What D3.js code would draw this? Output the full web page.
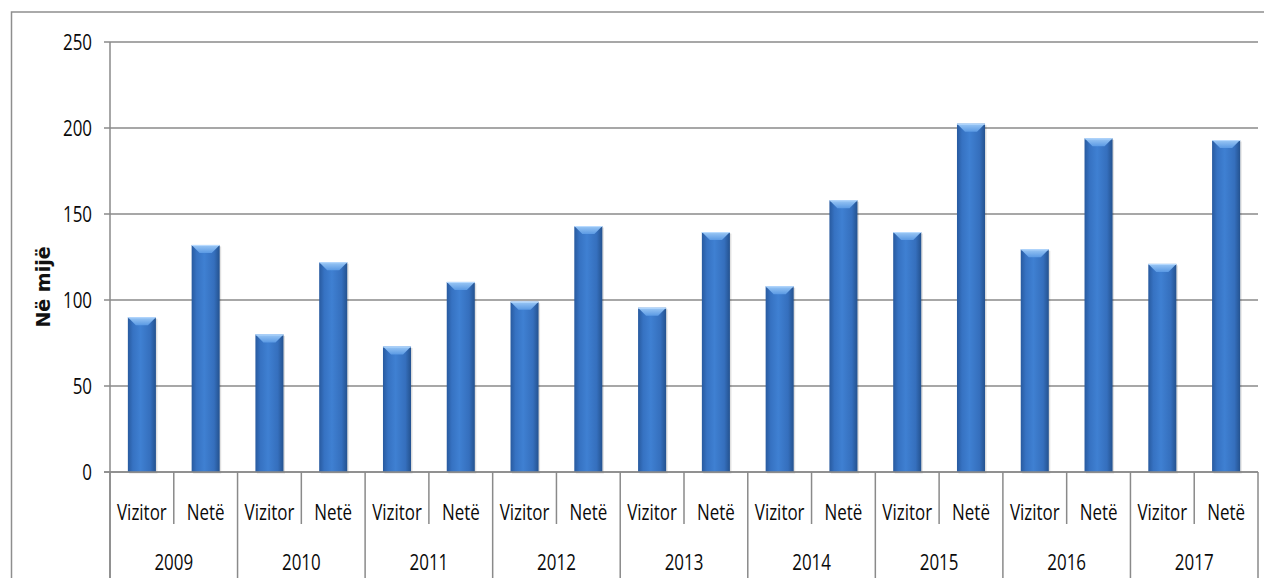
<!DOCTYPE html>
<html>
<head>
<meta charset="utf-8">
<script src="https://cdn.jsdelivr.net/npm/d3@7"></script>
<style>
  html, body { margin: 0; padding: 0; background: #fff; }
  svg { display: block; }
  .lbl { font-family: "Open Sans", "Liberation Sans", sans-serif; font-size: 22px; fill: #0a0a0a; }
</style>
</head>
<body>
<div id="chart"></div>
<script>
const years = ["2009","2010","2011","2012","2013","2014","2015","2016","2017"];
const series = ["Vizitor","Netë"];
const vizitor = [90, 80, 73, 99, 95.5, 108, 139.5, 129.5, 121];
const nete = [132, 122, 110.5, 143, 139.5, 158, 202.5, 194, 193];
const yTicks = [0, 50, 100, 150, 200, 250];
const yTitle = "Në mijë";

const W = 1264, H = 578;
const pLeft = 110, pRight = 1258, pTop = 42, pBottom = 472;
const SX = 0.77; // horizontal condensation of label text

const svg = d3.select("#chart").append("svg").attr("width", W).attr("height", H);

// data rows
const rows = [];
years.forEach((yr, i) => {
  rows.push({ year: yr, s: series[0], v: vizitor[i] });
  rows.push({ year: yr, s: series[1], v: nete[i] });
});

const x0 = d3.scaleBand().domain(years).range([pLeft, pRight]).padding(0);
const x1 = d3.scaleBand().domain(series).range([0, x0.bandwidth()]).paddingInner(0.56).paddingOuter(0.28);
const y = d3.scaleLinear().domain([0, 250]).range([pBottom, pTop]);

// outer frame
svg.append("rect").attr("x", 11.5).attr("y", 12).attr("width", 1300).attr("height", 700)
  .attr("fill", "none").attr("stroke", "#8e8e8e").attr("stroke-width", 1.5);

// gradients
const defs = svg.append("defs");
const g1 = defs.append("linearGradient").attr("id", "barGrad").attr("x1", "0").attr("x2", "1").attr("y1", "0").attr("y2", "0");
g1.append("stop").attr("offset", "0").attr("stop-color", "#285a9f");
g1.append("stop").attr("offset", "0.18").attr("stop-color", "#3672c2");
g1.append("stop").attr("offset", "0.45").attr("stop-color", "#3f80d2");
g1.append("stop").attr("offset", "0.8").attr("stop-color", "#356fbd");
g1.append("stop").attr("offset", "1").attr("stop-color", "#24528f");
const g2 = defs.append("linearGradient").attr("id", "capGrad").attr("x1", "0").attr("x2", "0").attr("y1", "0").attr("y2", "1");
g2.append("stop").attr("offset", "0").attr("stop-color", "#9cc8f5");
g2.append("stop").attr("offset", "1").attr("stop-color", "#5b9ae4");

// gridlines
svg.append("g").selectAll("line").data(yTicks).join("line")
  .attr("x1", pLeft - 6).attr("x2", pRight)
  .attr("y1", d => y(d)).attr("y2", d => y(d))
  .attr("stroke", "#8a8a8a").attr("stroke-width", 1.5);

// y axis line
svg.append("line").attr("x1", pLeft).attr("x2", pLeft).attr("y1", pTop).attr("y2", H + 5)
  .attr("stroke", "#8a8a8a").attr("stroke-width", 1.5);

// y labels
svg.append("g").selectAll("text").data(yTicks).join("text")
  .attr("class", "lbl")
  .attr("transform", d => `translate(92,${y(d)}) scale(${SX},1)`)
  .attr("dy", "0.36em")
  .attr("text-anchor", "end").text(d => d);

// y title
svg.append("text")
  .attr("transform", `translate(50,${(pTop + pBottom) / 2 + 30}) rotate(-90)`)
  .attr("text-anchor", "middle")
  .style("font-family", "'DejaVu Sans', sans-serif").style("font-weight", "bold").style("font-size", "19px")
  .attr("fill", "#111").text(yTitle);

// bars
const bars = svg.append("g").selectAll("g").data(rows).join("g")
  .attr("transform", d => `translate(${x0(d.year) + x1(d.s)},0)`);
const bw = x1.bandwidth();
bars.append("rect")
  .attr("x", 1.5).attr("y", d => y(d.v) + 1.5).attr("width", bw).attr("height", d => y(0) - y(d.v))
  .attr("fill", "#000").attr("opacity", 0.12);
bars.append("rect")
  .attr("x", 0).attr("y", d => y(d.v)).attr("width", bw).attr("height", d => y(0) - y(d.v))
  .attr("fill", "url(#barGrad)");
bars.append("path")
  .attr("d", d => {
    const t = y(d.v), c = 8;
    return `M0,${t} L${bw},${t} L${bw - c},${t + c} L${c},${t + c} Z`;
  })
  .attr("fill", "url(#capGrad)");
bars.append("line")
  .attr("x1", 0).attr("x2", bw).attr("y1", d => y(d.v) + 0.5).attr("y2", d => y(d.v) + 0.5)
  .attr("stroke", "#b9dbff").attr("stroke-width", 1);

// x axis base
svg.append("line").attr("x1", pLeft - 6).attr("x2", pRight).attr("y1", pBottom).attr("y2", pBottom)
  .attr("stroke", "#8a8a8a").attr("stroke-width", 1.5);

// inner dividers (between series)
svg.append("g").selectAll("line").data(years).join("line")
  .attr("x1", d => x0(d) + x0.bandwidth() / 2).attr("x2", d => x0(d) + x0.bandwidth() / 2)
  .attr("y1", pBottom).attr("y2", 524)
  .attr("stroke", "#8a8a8a").attr("stroke-width", 1.5);

// year dividers
const bounds = years.map(d => x0(d)).concat([pRight]);
svg.append("g").selectAll("line").data(bounds).join("line")
  .attr("x1", d => d).attr("x2", d => d)
  .attr("y1", pBottom).attr("y2", H + 5)
  .attr("stroke", "#8a8a8a").attr("stroke-width", 1.5);

// series labels
svg.append("g").selectAll("text").data(rows).join("text")
  .attr("class", "lbl")
  .attr("transform", d => `translate(${x0(d.year) + x1(d.s) + bw / 2},512) scale(${SX},1)`)
  .attr("dy", "0.36em")
  .attr("text-anchor", "middle").text(d => d.s);

// year labels
svg.append("g").selectAll("text").data(years).join("text")
  .attr("class", "lbl")
  .attr("transform", d => `translate(${x0(d) + x0.bandwidth() / 2},562) scale(${SX},1)`)
  .attr("dy", "0.36em")
  .attr("text-anchor", "middle").text(d => d);
</script>
</body>
</html>
